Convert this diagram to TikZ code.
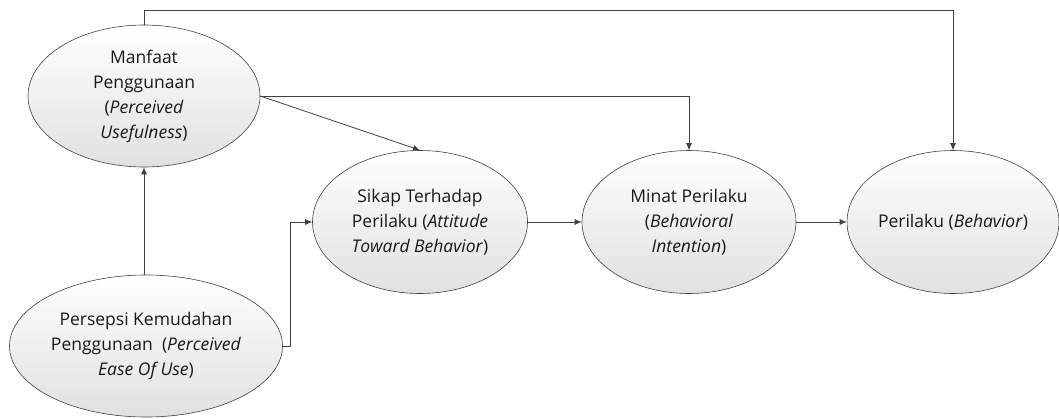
\documentclass[tikz,border=0pt]{standalone}
\usepackage{fontspec}
\setmainfont{Open Sans}
\usetikzlibrary{shapes.geometric,arrows.meta,positioning}
\definecolor{garis}{HTML}{404040}
\tikzset{x=1pt, y=-1pt, >={Latex[length=7pt,width=6pt]},
  every path/.style={garis, line width=0.8pt},
  konsep/.style={ellipse, draw=garis, line width=0.6pt, top color=white, bottom color=black!12,
    text=black!90, align=center, inner sep=0pt, font=\fontsize{17.5}{25}\selectfont}}

\begin{document}
\begin{tikzpicture}
   \useasboundingbox (0,0) rectangle (1059,418);
    \node[konsep, minimum width=232, minimum height=142] (manfaat) at (144,96)
      {Manfaat\\Penggunaan\\(\textit{Perceived}\\\textit{Usefulness})};
    \node[konsep, minimum width=273, minimum height=142] (persepsi) at (146,346)
      {Persepsi Kemudahan\\Penggunaan\ \ (\textit{Perceived}\\\textit{Ease Of Use})};
    \node[konsep, minimum width=215, minimum height=143] (sikap) at (420,222)
      {Sikap Terhadap\\Perilaku (\textit{Attitude}\\\textit{Toward Behavior})};
    \node[konsep, minimum width=214, minimum height=143] (minat) at (689,222)
      {Minat Perilaku\\(\textit{Behavioral}\\\textit{Intention})};
    \node[konsep, minimum width=208, minimum height=143] (perilaku) at (953,222)
      {Perilaku (\textit{Behavior})};

    \draw[->] (manfaat.south |- persepsi.north) -- (manfaat.south);
    \draw[->] (persepsi.east) -- ++(8,0) |- (sikap.west);
    \draw[->] (manfaat.east) -- (sikap.north);
    \draw[->] (manfaat.east) -| (minat.north);
    \draw[->] (manfaat.north) -- ++(0,-14) -| (perilaku.north);
    \draw[->] (sikap.east) -- (minat.west);
    \draw[->] (minat.east) -- (perilaku.west);
\end{tikzpicture}
\end{document}
